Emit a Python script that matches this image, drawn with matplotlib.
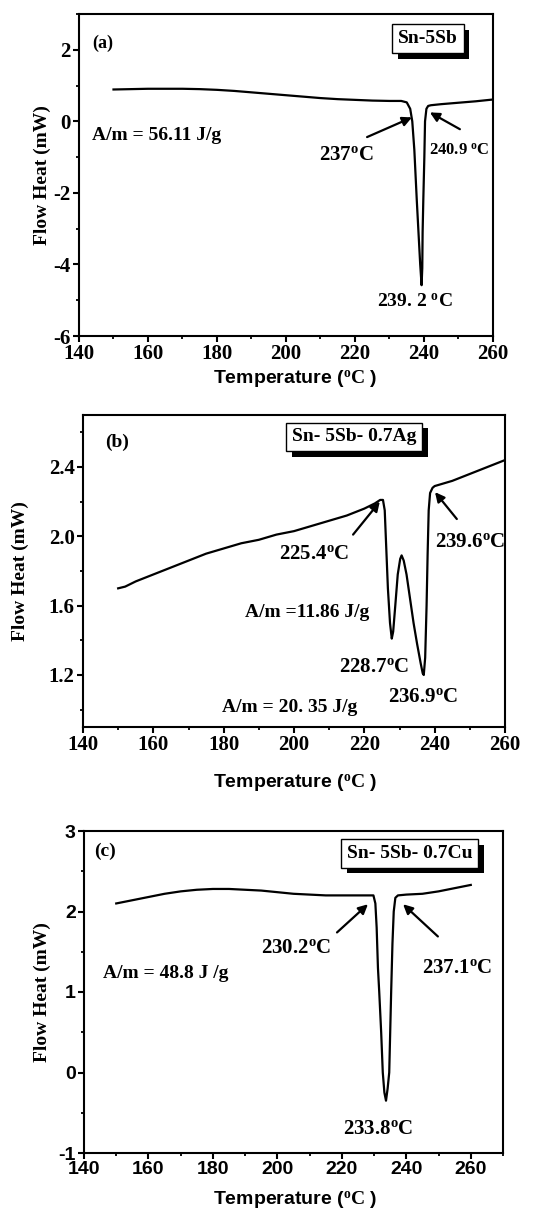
import matplotlib
matplotlib.use("Agg")
import matplotlib.pyplot as plt
from matplotlib.ticker import MultipleLocator
import matplotlib.patheffects as pe

plt.rcParams['mathtext.fontset'] = 'custom'
plt.rcParams['mathtext.rm'] = 'Liberation Serif:bold'
plt.rcParams['mathtext.bf'] = 'Liberation Serif:bold'
plt.rcParams['mathtext.it'] = 'Liberation Serif:italic:bold'
plt.rcParams['axes.unicode_minus'] = False

SERIF = 'Liberation Serif'
SANS = 'Liberation Sans'

# ---------------- data ----------------
# (a) Sn-5Sb
temp_a = [150, 155, 160, 165, 170, 175, 180, 185, 190, 195, 200, 205, 210, 215,
          220, 225, 230, 233.4, 235, 236, 236.6, 237.2, 237.9, 238.4, 238.9,
          239.3, 239.5, 239.6, 239.8, 240.1, 240.3, 240.7, 241.2, 242, 245,
          250, 255, 260]
heat_a = [0.89, 0.90, 0.91, 0.91, 0.91, 0.90, 0.88, 0.85, 0.81, 0.77, 0.73, 0.69,
          0.65, 0.62, 0.60, 0.58, 0.57, 0.57, 0.53, 0.35, 0.0, -0.8, -2.19, -3.1,
          -4.0, -4.58, -4.1, -3.1, -2.19, -1.0, 0.0, 0.35, 0.43, 0.45, 0.48,
          0.52, 0.56, 0.61]

# (b) Sn-5Sb-0.7Ag
temp_b = [150, 152, 155, 160, 165, 170, 175, 180, 185, 190, 195, 200, 205, 210,
          215, 220, 223, 224.5, 225.3, 225.8, 226.2, 226.7, 227.3, 227.8, 228.2,
          228.8, 229.5, 230.2, 230.6, 231.2, 232, 233, 234, 235, 236, 236.6,
          236.9, 237.3, 237.7, 238, 238.3, 238.7, 239.4, 240, 245, 250, 255, 260]
heat_b = [1.70, 1.71, 1.74, 1.78, 1.82, 1.86, 1.90, 1.93, 1.96, 1.98, 2.01, 2.03,
          2.06, 2.09, 2.12, 2.16, 2.19, 2.21, 2.21, 2.15, 1.95, 1.70, 1.50, 1.41,
          1.45, 1.60, 1.78, 1.87, 1.89, 1.86, 1.78, 1.64, 1.50, 1.38, 1.27, 1.21,
          1.20, 1.30, 1.60, 1.90, 2.15, 2.25, 2.28, 2.29, 2.32, 2.36, 2.40, 2.44]

# (c) Sn-5Sb-0.7Cu
temp_c = [150, 155, 160, 165, 170, 175, 180, 185, 190, 195, 200, 205, 210, 215,
          220, 225, 229.8, 230.4, 230.8, 231.2, 231.6, 232.2, 232.7, 233.2, 233.7,
          234.2, 234.7, 235.0, 235.3, 235.7, 236.1, 236.6, 237.4, 240, 245, 250,
          255, 260]
heat_c = [2.10, 2.14, 2.18, 2.22, 2.25, 2.27, 2.28, 2.28, 2.27, 2.26, 2.24, 2.22,
          2.21, 2.20, 2.20, 2.20, 2.20, 2.10, 1.80, 1.30, 1.00, 0.50, 0.00, -0.25,
          -0.35, -0.20, 0.00, 0.50, 1.00, 1.60, 2.00, 2.17, 2.20, 2.21, 2.22,
          2.25, 2.29, 2.33]

sample_names = ['Sn-5Sb', 'Sn- 5Sb- 0.7Ag', 'Sn- 5Sb- 0.7Cu']
panel_tags = ['(a)', '(b)', '(c)']
x_ticks_a = [140, 160, 180, 200, 220, 240, 260]
y_ticks_a = [-6, -4, -2, 0, 2]
y_ticks_b = [1.2, 1.6, 2.0, 2.4]
y_ticks_c = [-1, 0, 1, 2, 3]

# ---------------- figure ----------------
W, H = 555, 1211
fig = plt.figure(figsize=(W / 100, H / 100), dpi=100)


def px_axes(l, r, t, b):
    return fig.add_axes([l / W, 1 - b / H, (r - l) / W, (b - t) / H])


ax_a = px_axes(79, 493, 14, 336)
ax_b = px_axes(83, 505, 415, 727)
ax_c = px_axes(84, 503, 831, 1153)


def style(ax, family, size):
    for s in ax.spines.values():
        s.set_linewidth(1.5)
    ax.tick_params(which='major', direction='out', length=4, width=1.5,
                   top=False, right=False, pad=2)
    ax.tick_params(which='minor', direction='out', length=2.5, width=1.3,
                   top=False, right=False)
    for lab in ax.get_xticklabels() + ax.get_yticklabels():
        lab.set_fontfamily(family)
        lab.set_fontweight('bold')
        lab.set_fontsize(size)


def shadow_box(ax, x, y, s, size=14):
    t = ax.text(x, y, s, ha='center', va='center', fontfamily=SERIF,
                fontweight='bold', fontsize=size,
                bbox=dict(boxstyle='square,pad=0.3', fc='white', ec='black', lw=1))
    t.get_bbox_patch().set_path_effects([
        pe.SimplePatchShadow(offset=(4, -4), shadow_rgbFace='black', alpha=1.0),
        pe.Normal()])
    return t


def label(ax, x, y, s, size=14):
    ax.text(x, y, s, ha='center', va='center', fontfamily=SERIF,
            fontweight='bold', fontsize=size)


def arrow(ax, head, tail):
    ax.annotate('', xy=head, xytext=tail,
                arrowprops=dict(arrowstyle='-|>', color='black', lw=1.6,
                                mutation_scale=14, shrinkA=0, shrinkB=0))


deg = r'$^{\mathrm{o}}$'

# ---- (a) ----
ax_a.plot(temp_a, heat_a, color='black', lw=1.6)
ax_a.set_xlim(140, 260)
ax_a.set_ylim(-6, 3)
ax_a.set_xticks(x_ticks_a)
ax_a.set_yticks(y_ticks_a)
ax_a.xaxis.set_minor_locator(MultipleLocator(10))
ax_a.yaxis.set_minor_locator(MultipleLocator(1))
style(ax_a, SERIF, 15)
label(ax_a, 147.0, 2.17, panel_tags[0], 13)
shadow_box(ax_a, 241.2, 2.31, sample_names[0], 14)
ax_a.text(143.8, -0.39, 'A/m = 56.11 J/g', ha='left', va='center',
          fontfamily=SERIF, fontweight='bold', fontsize=14)
label(ax_a, 217.4, -0.94, '237' + deg + 'C', 15)
arrow(ax_a, (236.5, 0.11), (223.5, -0.44))
label(ax_a, 250.1, -0.81, '240.9 ' + deg + 'C', 12)
arrow(ax_a, (241.7, 0.25), (250.4, -0.22))
label(ax_a, 237.4, -5.06, '239. 2 ' + deg + 'C', 14)

# ---- (b) ----
ax_b.plot(temp_b, heat_b, color='black', lw=1.6)
ax_b.set_xlim(140, 260)
ax_b.set_ylim(0.9, 2.7)
ax_b.set_xticks(x_ticks_a)
ax_b.set_yticks(y_ticks_b)
ax_b.set_yticklabels(['%.1f' % v for v in y_ticks_b])
ax_b.xaxis.set_minor_locator(MultipleLocator(10))
ax_b.yaxis.set_minor_locator(MultipleLocator(0.2))
style(ax_b, SERIF, 15)
label(ax_b, 149.7, 2.545, panel_tags[1], 14)
shadow_box(ax_b, 217.1, 2.574, sample_names[1], 14)
label(ax_b, 205.7, 1.896, '225.4' + deg + 'C', 15)
arrow(ax_b, (224.4, 2.20), (216.8, 2.01))
label(ax_b, 250.0, 1.965, '239.6' + deg + 'C', 15)
arrow(ax_b, (240.1, 2.255), (246.3, 2.10))
label(ax_b, 203.7, 1.56, 'A/m =11.86 J/g', 14)
label(ax_b, 222.7, 1.246, '228.7' + deg + 'C', 15)
label(ax_b, 236.7, 1.072, '236.9' + deg + 'C', 15)
label(ax_b, 198.9, 1.014, 'A/m = 20. 35 J/g', 14)

# ---- (c) ----
ax_c.plot(temp_c, heat_c, color='black', lw=1.6)
ax_c.set_xlim(140, 270)
ax_c.set_ylim(-1, 3)
ax_c.set_xticks(x_ticks_a)
ax_c.set_yticks(y_ticks_c)
ax_c.xaxis.set_minor_locator(MultipleLocator(10))
ax_c.yaxis.set_minor_locator(MultipleLocator(0.5))
style(ax_c, SANS, 14)
label(ax_c, 146.5, 2.745, panel_tags[2], 14)
shadow_box(ax_c, 241.1, 2.72, sample_names[2], 14)
label(ax_c, 205.8, 1.55, '230.2' + deg + 'C', 15)
arrow(ax_c, (228.1, 2.09), (218.5, 1.74))
label(ax_c, 255.7, 1.30, '237.1' + deg + 'C', 15)
arrow(ax_c, (239.0, 2.09), (249.8, 1.69))
label(ax_c, 165.4, 1.23, 'A/m = 48.8 J /g', 14)
label(ax_c, 231.2, -0.70, '233.8' + deg + 'C', 15)

# ---- axis titles ----
xlab = r'Temperature ($^{\mathrm{o}}\mathrm{C}$ )'
for yc in (379, 783, 1200):
    fig.text(295 / W, 1 - yc / H, xlab, ha='center', va='center',
             fontfamily=SANS, fontweight='bold', fontsize=14)
for xc, yc in ((42, 175), (20, 571), (42, 992)):
    fig.text(xc / W, 1 - yc / H, 'Flow Heat (mW)', rotation=90, ha='center',
             va='center', fontfamily=SERIF, fontweight='bold', fontsize=14)

fig.savefig('out.png', dpi=100)
